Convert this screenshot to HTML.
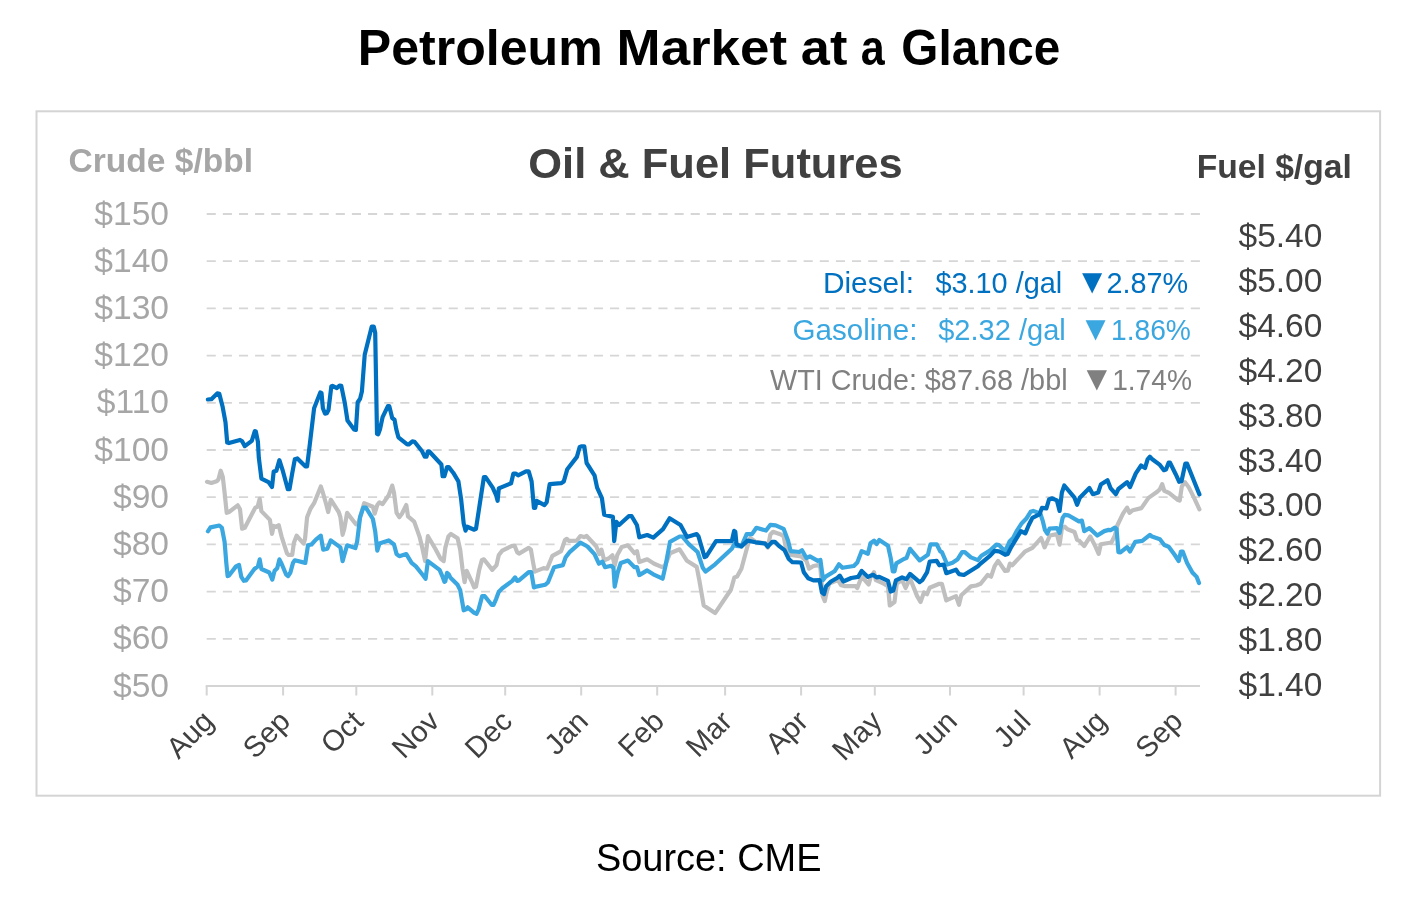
<!DOCTYPE html>
<html lang="en"><head><meta charset="utf-8"><title>Petroleum Market at a Glance</title>
<style>html,body{margin:0;padding:0;background:#fff}body{width:1426px;height:900px;overflow:hidden}svg{display:block;will-change:transform}text{font-family:"Liberation Sans",Arial,sans-serif}</style></head><body>
<svg width="1426" height="900" viewBox="0 0 1426 900">
<rect width="1426" height="900" fill="#fff"/>
<text y="64.6" font-size="49.5" font-weight="bold" fill="#000"><tspan x="357.87" textLength="244.83" lengthAdjust="spacingAndGlyphs">Petroleum</tspan> <tspan x="616.60" textLength="170.42" lengthAdjust="spacingAndGlyphs">Market</tspan> <tspan x="800.89" textLength="46.48" lengthAdjust="spacingAndGlyphs">at</tspan> <tspan x="860.86" textLength="23.93" lengthAdjust="spacingAndGlyphs">a</tspan> <tspan x="901.37" textLength="159.04" lengthAdjust="spacingAndGlyphs">Glance</tspan></text>
<rect x="36.5" y="111.3" width="1343.6" height="684.4" fill="#fff" stroke="#d4d4d4" stroke-width="2"/>
<text transform="translate(528.29,178.0) scale(1.0068,1)" font-size="43.2" font-weight="bold" fill="#404040">Oil &amp; Fuel Futures</text>
<text transform="translate(68.59,171.8) scale(1.0061,1)" font-size="33.33" font-weight="bold" fill="#a6a6a6">Crude $/bbl</text>
<text transform="translate(1196.68,177.7) scale(1.0094,1)" font-size="33.33" font-weight="bold" fill="#404040">Fuel $/gal</text>
<g stroke="#d6d6d6" stroke-width="1.8" stroke-dasharray="9.1 7.033" fill="none">
<line x1="206.7" y1="214.0" x2="1200.0" y2="214.0"/>
<line x1="206.7" y1="261.2" x2="1200.0" y2="261.2"/>
<line x1="206.7" y1="308.4" x2="1200.0" y2="308.4"/>
<line x1="206.7" y1="355.6" x2="1200.0" y2="355.6"/>
<line x1="206.7" y1="402.8" x2="1200.0" y2="402.8"/>
<line x1="206.7" y1="450.0" x2="1200.0" y2="450.0"/>
<line x1="206.7" y1="497.2" x2="1200.0" y2="497.2"/>
<line x1="206.7" y1="544.4" x2="1200.0" y2="544.4"/>
<line x1="206.7" y1="591.6" x2="1200.0" y2="591.6"/>
<line x1="206.7" y1="638.8" x2="1200.0" y2="638.8"/>
</g>
<g font-size="33.6" fill="#a6a6a6" text-anchor="end">
<text x="169" y="224.5">$150</text>
<text x="169" y="271.7">$140</text>
<text x="169" y="318.9">$130</text>
<text x="169" y="366.1">$120</text>
<text x="169" y="413.3">$110</text>
<text x="169" y="460.5">$100</text>
<text x="169" y="507.7">$90</text>
<text x="169" y="554.9">$80</text>
<text x="169" y="602.1">$70</text>
<text x="169" y="649.3">$60</text>
<text x="169" y="696.5">$50</text>
</g>
<g font-size="33.5" fill="#404040" text-anchor="start">
<text x="1238.5" y="246.5">$5.40</text>
<text x="1238.5" y="291.5">$5.00</text>
<text x="1238.5" y="336.5">$4.60</text>
<text x="1238.5" y="381.5">$4.20</text>
<text x="1238.5" y="426.5">$3.80</text>
<text x="1238.5" y="471.5">$3.40</text>
<text x="1238.5" y="516.4">$3.00</text>
<text x="1238.5" y="561.4">$2.60</text>
<text x="1238.5" y="606.4">$2.20</text>
<text x="1238.5" y="651.4">$1.80</text>
<text x="1238.5" y="696.4">$1.40</text>
</g>
<g stroke="#d4d4d4" stroke-width="2" fill="none"><line x1="205.7" y1="686.1" x2="1200.0" y2="686.1"/>
<line x1="206.7" y1="686" x2="206.7" y2="695.5"/>
<line x1="283.1" y1="686" x2="283.1" y2="695.5"/>
<line x1="356.3" y1="686" x2="356.3" y2="695.5"/>
<line x1="432.3" y1="686" x2="432.3" y2="695.5"/>
<line x1="505.2" y1="686" x2="505.2" y2="695.5"/>
<line x1="581.2" y1="686" x2="581.2" y2="695.5"/>
<line x1="657.2" y1="686" x2="657.2" y2="695.5"/>
<line x1="725.1" y1="686" x2="725.1" y2="695.5"/>
<line x1="801.1" y1="686" x2="801.1" y2="695.5"/>
<line x1="874.8" y1="686" x2="874.8" y2="695.5"/>
<line x1="950" y1="686" x2="950" y2="695.5"/>
<line x1="1023.6" y1="686" x2="1023.6" y2="695.5"/>
<line x1="1099.6" y1="686" x2="1099.6" y2="695.5"/>
<line x1="1175.6" y1="686" x2="1175.6" y2="695.5"/>
</g>
<g font-size="29.33" fill="#404040" text-anchor="end">
<text transform="translate(215.4,723) rotate(-45)">Aug</text>
<text transform="translate(291.8,723) rotate(-45)">Sep</text>
<text transform="translate(365.0,723) rotate(-45)">Oct</text>
<text transform="translate(441.0,723) rotate(-45)">Nov</text>
<text transform="translate(513.9,723) rotate(-45)">Dec</text>
<text transform="translate(589.9,723) rotate(-45)">Jan</text>
<text transform="translate(665.9,723) rotate(-45)">Feb</text>
<text transform="translate(733.8,723) rotate(-45)">Mar</text>
<text transform="translate(809.8,723) rotate(-45)">Apr</text>
<text transform="translate(883.5,723) rotate(-45)">May</text>
<text transform="translate(958.7,723) rotate(-45)">Jun</text>
<text transform="translate(1032.3,723) rotate(-45)">Jul</text>
<text transform="translate(1108.3,723) rotate(-45)">Aug</text>
<text transform="translate(1184.3,723) rotate(-45)">Sep</text>
</g>
<polyline points="207.0,481.8 211.4,483.0 216.7,481.3 218.4,479.5 220.7,470.7 222.8,476.9 224.6,492.7 226.7,512.9 229.0,512.0 237.7,505.3 240.0,509.3 242.1,528.7 244.8,527.8 255.3,507.6 257.6,506.7 259.7,498.8 261.4,511.1 269.9,519.9 272.0,533.9 273.7,526.0 276.4,526.9 278.7,525.1 281.6,536.6 286.9,553.2 288.7,555.0 292.2,555.0 293.9,542.7 296.6,535.7 303.6,543.6 305.0,539.2 307.1,517.2 310.6,508.5 314.1,503.2 320.8,486.5 322.9,492.7 326.4,505.0 328.2,512.0 330.8,499.7 338.7,512.0 340.4,517.2 342.6,534.8 344.3,528.7 347.1,512.9 355.9,524.3 358.0,524.3 364.2,503.2 372.9,506.7 374.7,513.7 377.3,505.0 379.4,502.3 382.6,504.1 388.7,495.3 392.2,485.6 394.0,492.7 396.6,512.9 399.3,517.2 401.9,513.7 406.3,505.0 408.0,516.4 414.2,521.6 419.5,536.6 422.1,547.1 425.1,561.1 427.9,536.2 435.3,548.8 440.5,558.5 443.7,561.1 445.3,547.9 448.4,536.5 450.9,533.9 457.6,538.3 460.2,549.7 462.5,569.0 464.6,582.2 466.7,570.8 471.6,581.3 474.2,587.4 476.0,586.6 479.0,570.8 481.8,560.2 483.9,559.3 492.3,569.9 496.5,565.1 498.8,555.0 502.3,550.6 512.0,545.8 514.6,545.8 517.2,552.3 519.0,553.6 528.7,547.9 530.9,549.7 533.0,562.0 534.8,571.6 543.6,568.1 547.1,568.7 552.4,555.8 561.1,551.1 565.0,540.0 566.8,538.8 569.0,540.9 576.9,540.6 580.4,536.0 584.0,537.1 586.6,536.0 596.2,546.2 599.4,554.1 601.5,549.7 604.2,560.2 608.5,558.5 612.4,555.3 614.7,565.5 617.3,555.0 621.7,547.1 627.9,545.3 634.5,553.2 637.0,551.1 639.3,562.0 647.2,559.3 654.2,563.7 661.6,566.9 664.7,566.4 670.0,553.2 679.6,549.3 687.0,560.8 696.7,566.9 699.3,580.1 703.7,605.5 715.1,613.1 730.9,589.7 734.4,577.4 737.1,576.6 741.4,568.7 747.6,545.8 750.2,537.9 755.5,541.8 765.1,543.2 767.8,547.6 770.4,534.4 773.0,531.8 780.9,534.4 783.6,536.2 786.2,549.3 789.7,554.6 801.1,556.4 806.4,560.8 809.0,568.7 813.4,566.0 818.7,565.1 820.4,567.8 822.6,595.9 824.8,601.1 826.6,592.4 829.2,583.6 838.0,580.1 841.2,585.3 845.0,586.2 855.6,586.2 857.3,588.0 861.7,576.6 868.7,584.5 870.5,577.4 874.0,572.2 875.8,580.1 883.7,583.6 888.0,586.2 889.8,605.5 894.5,602.0 896.8,583.6 902.1,580.1 905.6,588.0 910.0,578.3 917.0,595.9 920.5,602.0 924.0,592.4 927.0,594.3 929.7,587.8 939.3,583.8 941.9,583.8 946.3,600.4 956.0,596.1 959.0,604.8 961.3,595.2 970.9,586.4 976.2,585.5 980.6,583.8 987.6,575.0 991.1,576.7 994.6,566.2 998.1,560.9 1005.1,571.0 1007.8,570.6 1009.9,563.6 1012.2,565.3 1025.3,551.3 1032.4,547.8 1041.1,538.1 1044.6,547.4 1049.9,535.5 1056.9,534.1 1059.6,544.6 1061.9,528.5 1064.8,526.7 1067.5,529.3 1074.5,532.0 1077.1,539.9 1079.4,540.8 1084.2,546.0 1090.3,536.4 1095.6,546.9 1098.7,553.9 1100.8,544.3 1111.4,542.5 1114.9,535.5 1117.5,525.0 1123.0,513.7 1127.1,507.6 1129.5,512.9 1132.7,510.2 1141.4,508.1 1148.5,497.9 1157.2,491.8 1159.9,489.2 1162.2,484.2 1164.3,490.9 1168.7,492.7 1177.4,499.7 1179.7,500.6 1181.8,486.5 1185.0,482.1 1188.8,487.4 1194.1,497.9 1199.4,509.3" fill="none" stroke="#bfbfbf" stroke-width="4.2" stroke-linejoin="round" stroke-linecap="round"/>
<polyline points="207.9,531.3 210.5,527.4 219.3,525.5 221.9,527.8 224.6,541.8 226.3,562.9 227.6,576.1 229.0,575.5 236.0,566.4 239.0,565.0 241.3,576.9 243.9,580.8 246.0,580.4 254.4,569.0 257.9,566.4 259.7,559.4 261.4,569.0 269.3,572.5 272.3,579.6 274.6,570.8 277.2,568.2 279.4,559.4 281.6,563.8 286.0,574.3 288.1,576.1 290.4,572.5 293.0,562.9 294.8,560.3 305.3,562.9 308.0,545.3 311.5,544.5 315.9,539.7 320.8,535.7 323.2,549.7 327.3,548.8 330.8,540.4 340.4,547.4 342.6,561.1 344.3,555.0 347.1,545.3 355.4,548.0 357.1,541.8 360.1,517.2 363.3,507.6 365.9,507.6 372.9,519.0 375.2,531.3 377.3,550.6 379.4,543.6 388.7,540.4 394.0,544.5 396.6,554.1 399.3,556.2 406.3,554.1 411.6,562.9 415.9,566.4 423.0,575.2 425.6,578.7 427.9,561.1 439.6,569.9 442.3,576.1 444.4,581.9 445.3,581.3 447.0,572.9 448.8,574.3 450.5,577.8 457.6,584.8 460.2,590.1 463.7,610.3 466.0,609.4 467.7,607.3 474.2,612.9 476.5,613.8 478.6,609.4 482.1,596.2 484.8,596.2 491.8,605.0 493.5,605.0 496.2,598.8 498.8,591.8 502.3,588.3 512.3,580.9 515.1,577.4 517.2,580.9 519.0,580.4 528.7,572.2 531.3,572.2 533.9,587.4 536.2,586.6 545.3,584.8 548.0,582.2 554.1,567.2 562.9,565.1 565.5,557.6 569.9,551.8 580.4,542.7 587.5,546.5 594.5,554.1 598.9,563.7 602.4,561.6 605.0,567.2 611.2,565.8 613.5,568.1 614.7,586.6 617.7,572.5 620.8,562.9 627.9,560.6 634.5,567.2 637.0,567.2 639.3,575.1 647.2,570.4 653.3,574.3 662.6,578.7 665.6,565.5 670.0,541.8 679.6,536.5 682.3,536.5 688.8,544.1 697.6,552.0 702.8,567.8 705.5,571.6 715.1,564.3 731.8,548.8 734.4,544.1 736.2,545.8 741.4,546.4 746.7,534.1 752.0,534.1 756.4,527.8 766.0,530.6 770.4,524.8 775.7,525.3 783.6,528.8 788.0,540.6 790.6,551.1 799.4,552.0 802.0,550.2 806.4,558.1 809.9,556.4 817.8,560.8 820.4,559.9 823.1,580.1 825.7,576.6 834.5,571.3 838.9,564.3 842.4,567.8 853.8,566.0 857.3,562.5 861.7,551.1 867.9,553.7 870.5,543.2 874.0,540.6 876.6,544.1 879.3,540.0 888.0,545.8 890.7,558.1 892.8,571.3 894.5,571.3 896.3,563.4 903.8,559.0 906.5,558.1 910.0,548.8 919.6,560.4 927.9,554.8 930.5,544.3 936.7,544.3 940.2,551.3 941.9,552.2 947.2,564.5 952.5,562.7 957.7,559.2 962.1,552.2 964.8,552.2 970.9,557.4 977.9,560.1 981.4,555.7 990.2,550.4 996.4,544.6 999.0,545.1 1005.1,551.3 1009.5,541.6 1013.0,538.1 1016.6,531.1 1021.8,523.2 1026.2,518.8 1030.6,511.8 1033.2,510.9 1040.3,513.5 1042.9,521.4 1045.0,530.2 1047.3,533.7 1049.6,528.5 1056.9,528.1 1059.6,532.9 1062.6,517.9 1064.8,514.8 1068.3,515.3 1078.9,521.4 1081.9,520.6 1084.2,531.1 1089.4,528.1 1097.3,535.5 1104.3,531.1 1108.7,529.9 1110.5,530.2 1114.9,527.6 1116.6,529.3 1118.4,552.2 1120.4,552.4 1127.1,547.1 1130.0,551.5 1135.3,541.8 1142.3,540.9 1149.9,534.8 1152.0,536.6 1159.9,539.2 1164.3,545.0 1168.7,546.7 1174.8,555.0 1178.7,561.1 1180.9,551.5 1182.7,551.5 1187.1,562.9 1192.4,572.5 1196.7,576.9 1199.0,583.1" fill="none" stroke="#3ba7e0" stroke-width="4.2" stroke-linejoin="round" stroke-linecap="round"/>
<polyline points="207.9,399.5 211.4,399.2 217.2,393.4 219.3,393.9 222.5,406.2 225.5,422.4 227.2,442.5 229.0,443.1 240.0,439.9 242.1,441.3 244.8,446.1 251.8,440.8 254.8,431.1 255.8,431.5 257.9,441.7 258.8,457.6 261.4,478.6 268.5,482.1 272.0,487.1 273.7,471.6 276.4,470.7 279.4,460.2 282.5,469.8 287.8,489.2 289.5,489.2 292.2,473.4 294.8,459.3 297.4,458.4 305.3,466.3 307.1,466.3 309.7,445.2 314.1,408.3 320.3,392.5 321.5,392.9 322.9,408.3 325.0,413.6 326.8,413.2 328.5,410.1 331.3,386.4 332.5,385.8 336.9,388.1 339.6,385.5 341.3,385.8 344.8,403.0 347.5,420.6 354.1,429.4 355.9,429.9 357.7,402.2 360.1,398.7 361.9,391.6 364.7,354.8 371.7,326.7 373.8,326.7 375.2,332.8 377.0,433.8 378.2,434.3 380.0,429.4 382.6,417.1 387.9,406.2 389.3,406.2 392.2,418.0 394.5,419.7 396.3,429.4 398.4,437.3 407.2,444.3 408.9,444.3 412.4,441.3 414.5,441.7 422.1,451.3 424.7,456.6 426.5,456.6 427.9,451.3 429.1,451.3 441.4,464.5 442.6,476.2 444.4,476.2 447.0,467.1 448.8,467.1 453.2,472.7 458.4,481.4 461.1,499.0 463.7,523.6 465.5,530.6 467.2,526.7 474.2,529.7 476.0,528.8 480.4,499.9 483.9,477.1 485.6,477.1 492.7,487.6 496.2,495.5 497.6,500.8 498.8,488.5 500.6,487.6 511.1,483.2 513.4,473.5 515.5,473.5 518.1,475.3 526.0,471.3 528.7,471.3 531.6,481.4 533.9,507.8 535.2,507.8 536.6,500.8 544.5,505.1 546.7,502.2 549.7,484.1 561.1,483.2 563.8,481.4 567.3,469.2 576.9,456.9 579.6,447.2 581.3,446.3 584.3,446.3 586.6,463.0 594.5,475.3 597.1,487.6 601.9,498.1 604.2,514.8 612.9,516.9 614.2,541.1 616.4,521.8 619.1,525.0 628.7,516.2 631.7,516.2 637.0,525.3 639.3,537.3 647.2,535.0 653.3,537.6 663.0,529.2 669.6,518.3 680.5,525.0 687.0,537.1 696.7,534.1 698.4,536.2 704.6,557.2 706.3,556.4 716.0,541.1 731.8,541.1 734.1,530.9 735.3,531.8 736.5,544.1 741.4,546.4 747.6,540.6 755.5,542.3 765.1,543.6 767.8,546.7 772.2,541.8 774.8,541.8 778.3,545.3 784.5,550.2 788.8,559.0 792.4,562.2 801.1,562.5 803.8,572.2 808.2,578.3 813.4,580.4 819.6,580.1 821.9,592.4 824.0,594.1 826.1,586.2 831.0,581.5 837.1,578.0 839.8,575.7 843.3,581.5 851.2,578.0 858.2,576.9 861.7,570.9 867.9,576.9 873.1,574.8 876.6,577.4 879.3,576.9 888.0,580.9 890.7,591.5 893.3,590.6 895.9,580.4 902.1,577.4 906.5,579.2 910.0,573.9 919.6,582.2 922.3,580.1 927.0,572.4 929.7,561.5 936.7,560.9 939.3,565.3 943.7,564.5 946.3,573.2 956.0,569.7 959.0,574.1 963.9,575.0 977.9,566.2 980.6,563.6 990.2,555.7 994.6,550.9 999.0,551.3 1005.1,554.8 1007.8,553.9 1011.3,546.9 1020.9,531.1 1025.3,533.4 1028.8,525.0 1032.4,517.9 1039.4,514.4 1042.0,507.8 1046.4,508.3 1049.0,499.5 1051.7,498.3 1056.9,500.4 1059.6,510.9 1061.9,492.5 1064.3,485.5 1074.5,497.7 1077.1,504.8 1079.8,497.7 1089.4,488.1 1092.9,494.2 1098.2,492.5 1100.8,484.6 1107.5,480.2 1110.5,488.1 1115.8,494.2 1118.4,489.0 1127.1,482.1 1130.0,487.1 1135.8,473.4 1141.1,465.5 1145.0,468.1 1147.6,459.3 1149.9,456.7 1152.3,459.3 1159.9,464.9 1163.9,470.2 1166.0,469.5 1168.7,462.5 1169.9,462.5 1175.7,474.2 1179.2,481.8 1181.5,481.3 1185.3,463.7 1187.1,463.7 1194.1,481.3 1199.4,494.4" fill="none" stroke="#0070c0" stroke-width="4.2" stroke-linejoin="round" stroke-linecap="round"/>
<text y="293.0" font-size="28.8" fill="#0070c0"><tspan x="822.93" textLength="91.11" lengthAdjust="spacingAndGlyphs">Diesel:</tspan> <tspan x="935.40" textLength="126.91" lengthAdjust="spacingAndGlyphs">$3.10 /gal</tspan> <tspan x="1075.27" textLength="33.81" lengthAdjust="spacingAndGlyphs" font-size="34.5">▼</tspan><tspan x="1106.40" textLength="81.76" lengthAdjust="spacingAndGlyphs">2.87%</tspan></text>
<text y="340.0" font-size="28.8" fill="#3ba7e0"><tspan x="792.44" textLength="125.09" lengthAdjust="spacingAndGlyphs">Gasoline:</tspan> <tspan x="938.19" textLength="127.62" lengthAdjust="spacingAndGlyphs">$2.32 /gal</tspan> <tspan x="1078.81" textLength="33.64" lengthAdjust="spacingAndGlyphs" font-size="34.5">▼</tspan><tspan x="1110.94" textLength="80.00" lengthAdjust="spacingAndGlyphs">1.86%</tspan></text>
<text y="389.9" font-size="28.8" fill="#808080"><tspan x="770.10" textLength="146.91" lengthAdjust="spacingAndGlyphs">WTI Crude:</tspan> <tspan x="924.80" textLength="142.82" lengthAdjust="spacingAndGlyphs">$87.68 /bbl</tspan> <tspan x="1079.70" textLength="34.16" lengthAdjust="spacingAndGlyphs" font-size="34.5">▼</tspan><tspan x="1112.14" textLength="79.90" lengthAdjust="spacingAndGlyphs">1.74%</tspan></text>
<text transform="translate(595.91,871.4) scale(0.9933,1)" font-size="38.2" fill="#000">Source: CME</text>
</svg></body></html>
